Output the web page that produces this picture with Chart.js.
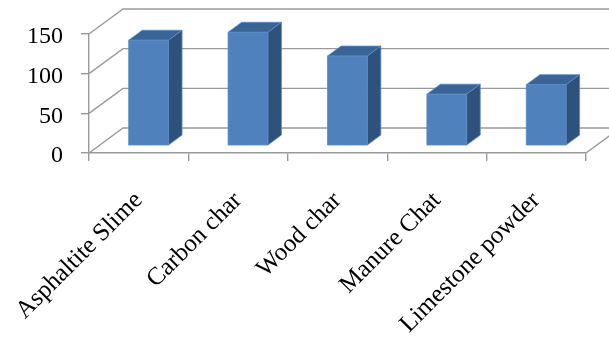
<!DOCTYPE html>
<html><head><meta charset="utf-8">
<script src="https://cdn.jsdelivr.net/npm/chart.js@4"></script>
<style>html,body{margin:0;padding:0;background:#fff}#wrap{width:609px;height:338px;position:relative}</style>
</head><body><div id="wrap"><canvas id="c"></canvas></div>
<script>
const categories = ['Asphaltite Slime', 'Carbon char', 'Wood char', 'Manure Chat', 'Limestone powder'];
const values = [133, 143, 113, 65, 77];
const yTicks = [0, 50, 100, 150];

// Perspective of the box: how far the back wall sits from the front edge
const DEPTH_X = 34, DEPTH_Y = -25;
// Bars occupy this slice of the depth (0 = front, 1 = back wall)
const BAR_FRONT = 0.29, BAR_BACK = 0.69;

const GRID = '#9a9a9a';
const FACE = '#4f81bd', SIDE = '#2f527c', TOP = '#3b6496', EDGE = '#5b8cc7';
const FONT = "'Liberation Serif', 'Times New Roman', serif";

const box3d = {
  id: 'box3d',
  beforeDatasetsDraw(chart) {
    const {ctx, chartArea: a, scales: {y}} = chart;
    ctx.save();
    ctx.strokeStyle = GRID;
    ctx.lineWidth = 1.4;
    ctx.beginPath();
    yTicks.forEach(v => {
      const py = y.getPixelForValue(v);
      // side wall diagonal + back wall line
      ctx.moveTo(a.left, py);
      ctx.lineTo(a.left + DEPTH_X, py + DEPTH_Y);
      ctx.lineTo(a.right + DEPTH_X, py + DEPTH_Y);
    });
    // floor right edge
    ctx.moveTo(a.right, a.bottom);
    ctx.lineTo(a.right + DEPTH_X, a.bottom + DEPTH_Y);
    ctx.stroke();
    ctx.restore();
  },
  afterDatasetsDraw(chart) {
    const {ctx} = chart;
    const meta = chart.getDatasetMeta(0);
    const ox = BAR_FRONT * DEPTH_X, oy = BAR_FRONT * DEPTH_Y;
    const dx = (BAR_BACK - BAR_FRONT) * DEPTH_X, dy = (BAR_BACK - BAR_FRONT) * DEPTH_Y;
    ctx.save();
    ctx.lineWidth = 0.8;
    ctx.lineJoin = 'round';
    meta.data.forEach(bar => {
      const {x, y, base, width} = bar.getProps(['x', 'y', 'base', 'width'], true);
      const l = x - width / 2 + ox, r = x + width / 2 + ox;
      const t = y + oy, b = base + oy;
      // top face
      ctx.beginPath();
      ctx.moveTo(l, t); ctx.lineTo(l + dx, t + dy); ctx.lineTo(r + dx, t + dy); ctx.lineTo(r, t); ctx.closePath();
      ctx.fillStyle = TOP; ctx.fill(); ctx.strokeStyle = EDGE; ctx.stroke();
      // right side face
      ctx.beginPath();
      ctx.moveTo(r, t); ctx.lineTo(r + dx, t + dy); ctx.lineTo(r + dx, b + dy); ctx.lineTo(r, b); ctx.closePath();
      ctx.fillStyle = SIDE; ctx.fill(); ctx.strokeStyle = EDGE; ctx.stroke();
      // front face
      ctx.beginPath();
      ctx.rect(l, t, r - l, b - t);
      ctx.fillStyle = FACE; ctx.fill(); ctx.strokeStyle = EDGE; ctx.stroke();
    });
    ctx.restore();
  }
};

new Chart(document.getElementById('c'), {
  type: 'bar',
  data: {
    labels: categories,
    datasets: [{
      data: values,
      backgroundColor: 'rgba(0,0,0,0)',
      borderWidth: 0,
      barPercentage: 1,
      categoryPercentage: 0.4
    }]
  },
  options: {
    responsive: true,
    maintainAspectRatio: false,
    animation: false,
    events: [],
    layout: {padding: {top: 34, right: 23, left: 0, bottom: 0}},
    plugins: {legend: {display: false}, tooltip: {enabled: false}},
    scales: {
      x: {
        afterFit(s) { s.height = 185; s.paddingLeft = 0; s.paddingRight = 0; },
        grid: {display: true, drawOnChartArea: false, tickLength: 8, color: GRID, lineWidth: 1.4, offset: true},
        border: {display: true, color: GRID, width: 1.4},
        ticks: {
          autoSkip: false, minRotation: 45, maxRotation: 45, padding: 25,
          color: '#000', font: {family: FONT, size: 25}
        }
      },
      y: {
        min: 0, max: 150,
        afterFit(s) { s.width = 89; s.paddingTop = 0; s.paddingBottom = 0; },
        afterBuildTicks(s) { s.ticks = yTicks.map(v => ({value: v})); },
        grid: {display: true, drawOnChartArea: false, tickLength: 8, color: GRID, lineWidth: 1.4},
        border: {display: true, color: GRID, width: 1.4},
        ticks: {padding: 18, labelOffset: 3, color: '#000', font: {family: FONT, size: 24}}
      }
    }
  },
  plugins: [box3d]
});
</script>
</body></html>
